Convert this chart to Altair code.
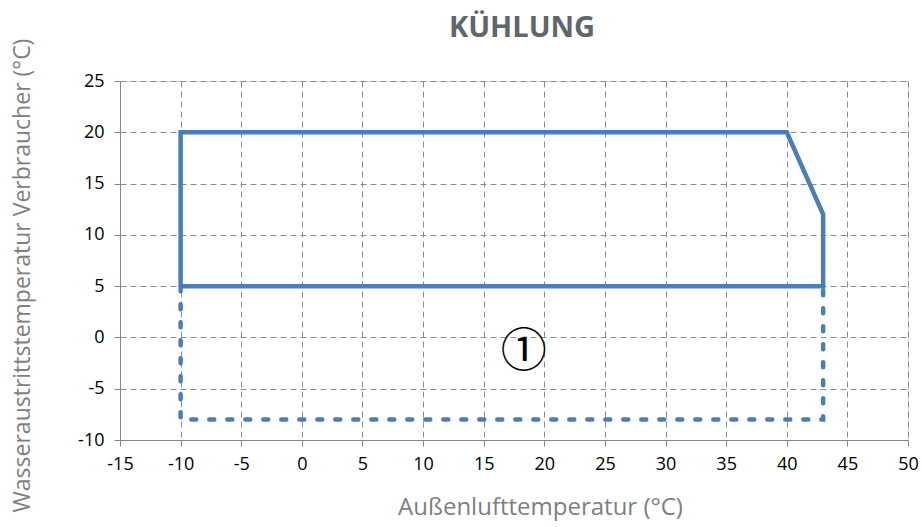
import altair as alt
import pandas as pd

# Operating envelope (cooling): outdoor air temp vs. leaving water temp
solid_x = [-10, -10, 40, 43, 43, -10]
solid_y = [5, 20, 20, 12, 5, 5]
dashed_x = [-10, -10, 43, 43]
dashed_y = [5, -8, -8, 5]

x_ticks = list(range(-15, 55, 5))
y_ticks = list(range(-10, 30, 5))

label_x = [18.3]
label_y = [-1.4]
label_text = ["①"]

chart_title = ["KÜHLUNG"]

solid = pd.DataFrame({"x": solid_x, "y": solid_y, "i": range(len(solid_x))})
dashed = pd.DataFrame({"x": dashed_x, "y": dashed_y, "i": range(len(dashed_x))})
labels = pd.DataFrame({"x": label_x, "y": label_y, "t": label_text})
heading = pd.DataFrame({"t": chart_title})

blue = "#4a7ebb"
FONT = "Open Sans"

xs = alt.Scale(domain=[-15, 50], nice=False, zero=False)
ys = alt.Scale(domain=[-10, 25], nice=False, zero=False)

x_axis = alt.Axis(
    values=x_ticks, labelExpr="datum.value", labelFlush=False,
    title="Außenlufttemperatur (°C)", titleFontSize=24,
    titleColor="#7f7f7f", titleFontWeight="normal", titleFont=FONT,
    titlePadding=22, titleX=420,
    labelFontSize=18, labelColor="#000000", labelFont=FONT, labelPadding=9,
    grid=True, gridDash=[6, 4], gridColor="#8c8c8c", gridWidth=1,
    domainColor="#868686", tickColor="#868686", tickSize=6,
)
y_axis = alt.Axis(
    values=y_ticks, labelExpr="datum.value", labelFlush=False,
    title="Wasseraustrittstemperatur Verbraucher (°C)",
    titleFontSize=23, titleColor="#7f7f7f", titleFontWeight="normal",
    titleFont=FONT, titleX=-98, titleY=194, titleBaseline="middle",
    labelFontSize=18, labelColor="#000000", labelFont=FONT, labelPadding=10,
    grid=True, gridDash=[6, 4], gridColor="#8c8c8c", gridWidth=1,
    domainColor="#868686", tickColor="#868686", tickSize=6,
)

solid_line = alt.Chart(solid).mark_line(
    color=blue, strokeWidth=4.5, strokeJoin="miter"
).encode(
    x=alt.X("x:Q", scale=xs, axis=x_axis),
    y=alt.Y("y:Q", scale=ys, axis=y_axis),
    order="i:Q",
)

dashed_line = alt.Chart(dashed).mark_line(
    color=blue, strokeWidth=4.5, strokeDash=[5, 13], strokeCap="round"
).encode(
    x=alt.X("x:Q", scale=xs),
    y=alt.Y("y:Q", scale=ys),
    order="i:Q",
)

marker = alt.Chart(labels).mark_text(
    font="Noto Sans CJK JP", fontSize=46, color="#000000"
).encode(
    x=alt.X("x:Q", scale=xs),
    y=alt.Y("y:Q", scale=ys),
    text="t:N",
)

# Chart heading, centred above the plot area
title_text = alt.Chart(heading).mark_text(
    font=FONT, fontSize=29, fontWeight="bold", color="#5f666d",
    baseline="middle", align="center",
).encode(
    x=alt.value(402),
    y=alt.value(-53),
    text="t:N",
)

chart = (
    alt.layer(solid_line, dashed_line, marker, title_text)
    .properties(
        width=788, height=359,
        autosize=alt.AutoSizeParams(type="none"),
        padding={"left": 120, "top": 81, "right": 14, "bottom": 87},
    )
    .configure_view(stroke=None)
    .configure(background="white")
)

chart.save("out.html", embed_options={"renderer": "svg", "actions": False})
